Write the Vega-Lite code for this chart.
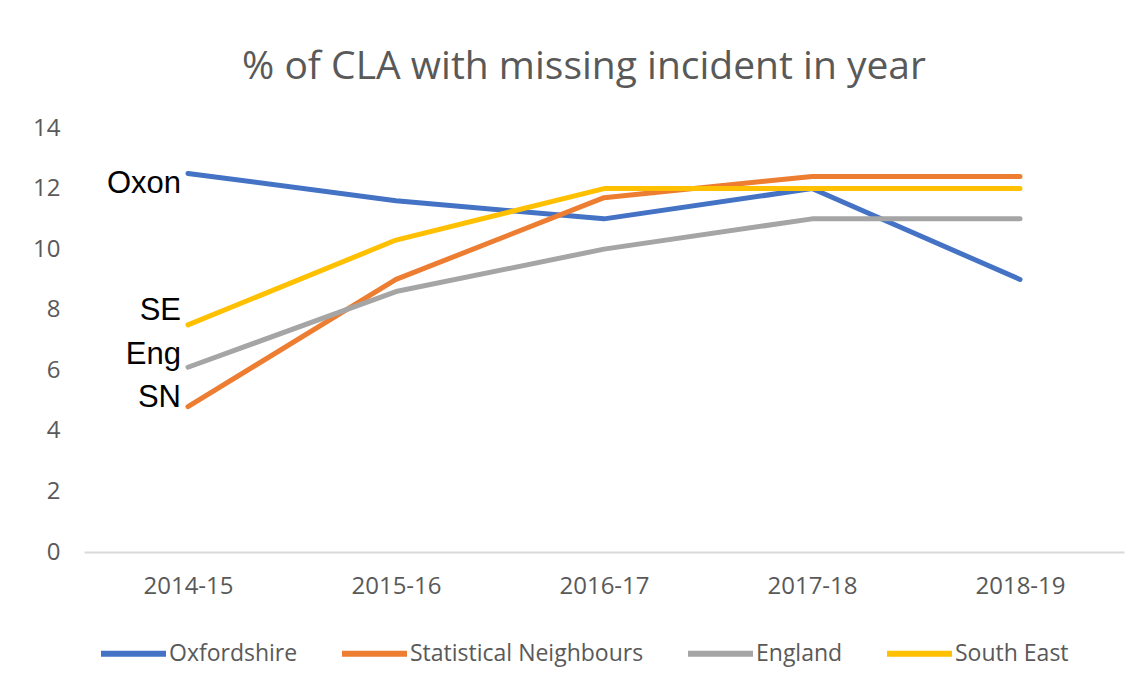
{
  "$schema": "https://vega.github.io/schema/vega-lite/v6.json",
  "width": 1040,
  "height": 424,
  "autosize": {"type": "none"},
  "padding": {"left": 84, "top": 128, "right": 23, "bottom": 143},
  "background": "white",
  "config": {
    "view": {"stroke": null},
    "font": "Open Sans"
  },
  "title": {
    "text": "% of CLA with missing incident in year",
    "font": "Open Sans",
    "fontSize": 39,
    "fontWeight": "normal",
    "color": "#595959",
    "anchor": "middle",
    "dx": -20,
    "offset": 29
  },
  "datasets": {
    "series": [
      {"series": "Oxfordshire", "year": "2014-15", "value": 12.5},
      {"series": "Oxfordshire", "year": "2015-16", "value": 11.6},
      {"series": "Oxfordshire", "year": "2016-17", "value": 11.0},
      {"series": "Oxfordshire", "year": "2017-18", "value": 12.0},
      {"series": "Oxfordshire", "year": "2018-19", "value": 9.0},
      {"series": "Statistical Neighbours", "year": "2014-15", "value": 4.8},
      {"series": "Statistical Neighbours", "year": "2015-16", "value": 9.0},
      {"series": "Statistical Neighbours", "year": "2016-17", "value": 11.7},
      {"series": "Statistical Neighbours", "year": "2017-18", "value": 12.4},
      {"series": "Statistical Neighbours", "year": "2018-19", "value": 12.4},
      {"series": "England", "year": "2014-15", "value": 6.1},
      {"series": "England", "year": "2015-16", "value": 8.6},
      {"series": "England", "year": "2016-17", "value": 10.0},
      {"series": "England", "year": "2017-18", "value": 11.0},
      {"series": "England", "year": "2018-19", "value": 11.0},
      {"series": "South East", "year": "2014-15", "value": 7.5},
      {"series": "South East", "year": "2015-16", "value": 10.3},
      {"series": "South East", "year": "2016-17", "value": 12.0},
      {"series": "South East", "year": "2017-18", "value": 12.0},
      {"series": "South East", "year": "2018-19", "value": 12.0}
    ],
    "labels": [
      {"year": "2014-15", "value": 12.15, "label": "Oxon"},
      {"year": "2014-15", "value": 7.95, "label": "SE"},
      {"year": "2014-15", "value": 6.5, "label": "Eng"},
      {"year": "2014-15", "value": 5.1, "label": "SN"}
    ]
  },
  "layer": [
    {
      "data": {"name": "series"},
      "mark": {"type": "line", "strokeWidth": 5, "strokeCap": "round", "strokeJoin": "round"},
      "encoding": {
        "x": {
          "field": "year", "type": "ordinal",
          "scale": {"type": "point", "padding": 0.5},
          "axis": {
            "title": null, "domain": true, "domainColor": "#D9D9D9", "domainWidth": 2,
            "ticks": false, "grid": false, "labelAngle": 0,
            "labelFont": "Open Sans", "labelFontSize": 24, "labelColor": "#595959",
            "labelPadding": 22
          }
        },
        "y": {
          "field": "value", "type": "quantitative",
          "scale": {"domain": [0, 14]},
          "axis": {
            "title": null, "domain": false, "ticks": false, "grid": false,
            "values": [0, 2, 4, 6, 8, 10, 12, 14],
            "labelFont": "Open Sans", "labelFontSize": 24, "labelColor": "#595959",
            "labelPadding": 24
          }
        },
        "color": {
          "field": "series", "type": "nominal",
          "scale": {
            "domain": ["Oxfordshire", "Statistical Neighbours", "England", "South East"],
            "range": ["#4472C4", "#ED7D31", "#A5A5A5", "#FFC000"]
          },
          "legend": {
            "title": null,
            "orient": "none",
            "direction": "horizontal",
            "legendX": 14,
            "legendY": 490,
            "symbolType": "stroke",
            "symbolSize": 4225,
            "symbolStrokeWidth": 6,
            "labelFont": "Open Sans",
            "labelFontSize": 23,
            "labelColor": "#595959",
            "labelOffset": 0,
            "labelLimit": 400,
            "columnPadding": 32
          }
        }
      }
    },
    {
      "data": {"name": "labels"},
      "mark": {"type": "text", "align": "right", "baseline": "middle", "dx": -7, "font": "Liberation Sans", "fontSize": 31, "color": "black"},
      "encoding": {
        "x": {"field": "year", "type": "ordinal"},
        "y": {"field": "value", "type": "quantitative"},
        "text": {"field": "label"}
      }
    }
  ]
}
